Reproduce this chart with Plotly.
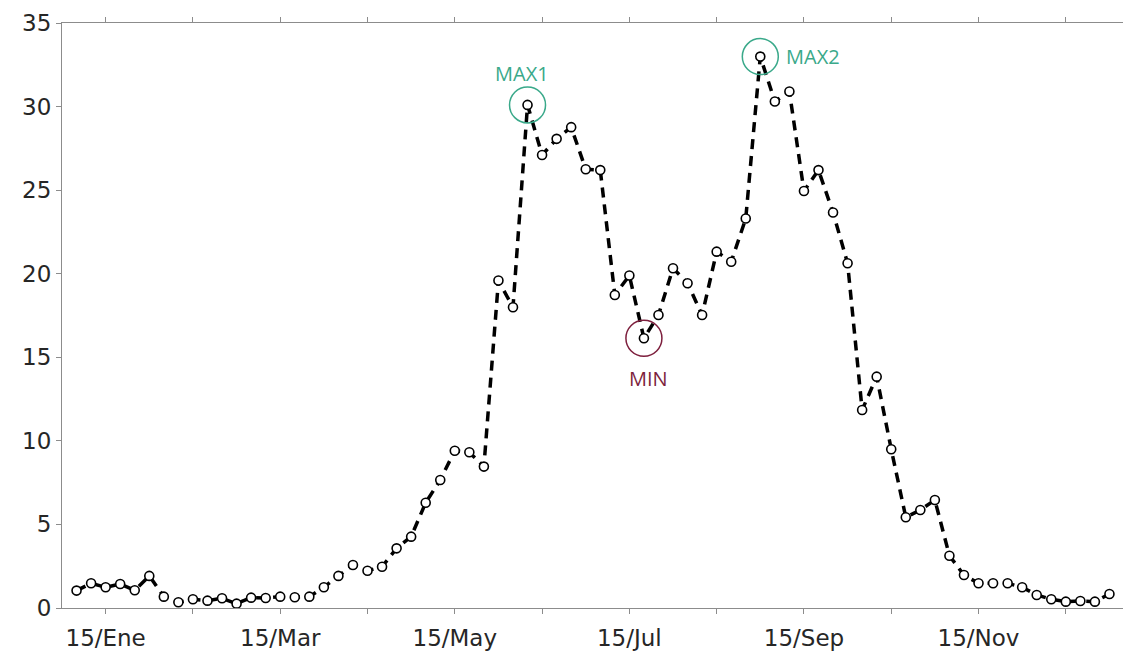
import plotly.graph_objects as go

# day of year of each sample (every 5 days)
days = list(range(5, 361, 5))
values = [
    1.04, 1.48, 1.24, 1.44, 1.06, 1.92, 0.68, 0.34, 0.52, 0.44,
    0.58, 0.26, 0.62, 0.60, 0.68, 0.64, 0.68, 1.24, 1.92, 2.57,
    2.23, 2.47, 3.57, 4.27, 6.30, 7.66, 9.41, 9.32, 8.46, 19.59,
    17.99, 30.10, 27.10, 28.07, 28.77, 26.25, 26.20, 18.73, 19.89, 16.14,
    17.53, 20.33, 19.43, 17.53, 21.32, 20.72, 23.30, 32.99, 30.30, 30.90,
    24.95, 26.20, 23.66, 20.63, 11.85, 13.84, 9.50, 5.43, 5.86, 6.46,
    3.13, 1.97, 1.48, 1.48, 1.48, 1.24, 0.78, 0.52, 0.38, 0.42,
    0.38, 0.84,
]

tick_days = [15, 45, 75, 105, 135, 165, 195, 225, 255, 285, 315, 345]
tick_labels = ['15/Ene', '', '15/Mar', '', '15/May', '', '15/Jul', '',
               '15/Sep', '', '15/Nov', '']

green = '#3aa98a'
maroon = '#7d1f3d'

# index of the two peaks (one in each half) and the trough between them
split = days.index(200)
i_max1 = max(range(split), key=lambda i: values[i])
i_max2 = max(range(split, len(values)), key=lambda i: values[i])
i_min = min(range(i_max1, i_max2), key=lambda i: values[i])

fig = go.Figure()

fig.add_trace(go.Scatter(
    x=days,
    y=values,
    mode='lines+markers',
    line=dict(color='black', width=3.5, dash='10px,7px'),
    marker=dict(symbol='circle', size=9, color='white',
                line=dict(color='black', width=1.6)),
    showlegend=False
))

# highlight circles
for idx, col in [(i_max1, green), (i_max2, green), (i_min, maroon)]:
    fig.add_trace(go.Scatter(
        x=[days[idx]],
        y=[values[idx]],
        mode='markers',
        marker=dict(symbol='circle-open', size=36, color=col,
                    line=dict(color=col, width=1.5)),
        showlegend=False
    ))

lab_font = dict(family='Open Sans', size=20)
fig.add_annotation(x=days[i_max1], y=values[i_max1], text='MAX1',
                   showarrow=False, xshift=-6, yshift=31,
                   font=dict(color=green, **lab_font))
fig.add_annotation(x=days[i_max2], y=values[i_max2], text='MAX2',
                   showarrow=False, xshift=53, yshift=0,
                   font=dict(color=green, **lab_font))
fig.add_annotation(x=days[i_min], y=values[i_min], text='MIN',
                   showarrow=False, xshift=5, yshift=-40,
                   font=dict(color=maroon, **lab_font))

axis_style = dict(
    showline=True,
    linecolor='#8c8c8c',
    linewidth=1,
    mirror='ticks',
    ticks='outside',
    ticklen=5,
    tickcolor='#8c8c8c',
    showgrid=False,
    zeroline=False,
    automargin=False,
    tickfont=dict(family='DejaVu Sans', size=23, color='#262626'),
)

fig.update_xaxes(range=[0, 365], tickvals=tick_days, ticktext=tick_labels,
                 ticklabelstandoff=4, **axis_style)
fig.update_yaxes(range=[0, 35], tickvals=[0, 5, 10, 15, 20, 25, 30, 35],
                 **axis_style)

# the page body adds an 8px offset, so margins are trimmed to match
fig.update_layout(
    width=1131,
    height=658,
    margin=dict(l=54, r=15, t=15, b=58),
    plot_bgcolor='white',
    paper_bgcolor='white',
)

fig.write_html("out.html")
